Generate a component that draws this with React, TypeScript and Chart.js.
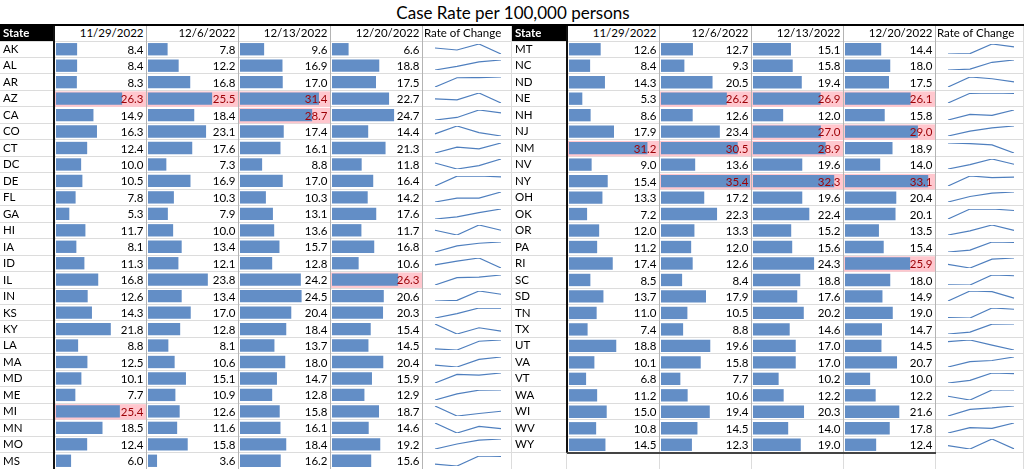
import React, { useEffect, useRef } from "react";
import { Chart, registerables } from "chart.js";

Chart.register(...registerables);

// ---------------- data ----------------
const TITLE = "Case Rate per 100,000 persons";
const STATE_HEADER = "State";
const WEEKS = ["11/29/2022", "12/6/2022", "12/13/2022", "12/20/2022"];
const TREND_HEADER = "Rate of Change";

const STATES = [
  "AK", "AL", "AR", "AZ", "CA", "CO", "CT", "DC", "DE", "FL", "GA", "HI", "IA",
  "ID", "IL", "IN", "KS", "KY", "LA", "MA", "MD", "ME", "MI", "MN", "MO", "MS",
  "MT", "NC", "ND", "NE", "NH", "NJ", "NM", "NV", "NY", "OH", "OK", "OR", "PA",
  "RI", "SC", "SD", "TN", "TX", "UT", "VA", "VT", "WA", "WI", "WV", "WY",
];

const RATE_11_29 = [
  8.4, 8.4, 8.3, 26.3, 14.9, 16.3, 12.4, 10.0, 10.5, 7.8, 5.3, 11.7, 8.1,
  11.3, 16.8, 12.6, 14.3, 21.8, 8.8, 12.5, 10.1, 7.7, 25.4, 18.5, 12.4, 6.0,
  12.6, 8.4, 14.3, 5.3, 8.6, 17.9, 31.2, 9.0, 15.4, 13.3, 7.2, 12.0, 11.2,
  17.4, 8.5, 13.7, 11.0, 7.4, 18.8, 10.1, 6.8, 11.2, 15.0, 10.8, 14.5,
];
const RATE_12_06 = [
  7.8, 12.2, 16.8, 25.5, 18.4, 23.1, 17.6, 7.3, 16.9, 10.3, 7.9, 10.0, 13.4,
  12.1, 23.8, 13.4, 17.0, 12.8, 8.1, 10.6, 15.1, 10.9, 12.6, 11.6, 15.8, 3.6,
  12.7, 9.3, 20.5, 26.2, 12.6, 23.4, 30.5, 13.6, 35.4, 17.2, 22.3, 13.3, 12.0,
  12.6, 8.4, 17.9, 10.5, 8.8, 19.6, 15.8, 7.7, 10.6, 19.4, 14.5, 12.3,
];
const RATE_12_13 = [
  9.6, 16.9, 17.0, 31.4, 28.7, 17.4, 16.1, 8.8, 17.0, 10.3, 13.1, 13.6, 15.7,
  12.8, 24.2, 24.5, 20.4, 18.4, 13.7, 18.0, 14.7, 12.8, 15.8, 16.1, 18.4, 16.2,
  15.1, 15.8, 19.4, 26.9, 12.0, 27.0, 28.9, 19.6, 32.3, 19.6, 22.4, 15.2, 15.6,
  24.3, 18.8, 17.6, 20.2, 14.6, 17.0, 17.0, 10.2, 12.2, 20.3, 14.0, 19.0,
];
const RATE_12_20 = [
  6.6, 18.8, 17.5, 22.7, 24.7, 14.4, 21.3, 11.8, 16.4, 14.2, 17.6, 11.7, 16.8,
  10.6, 26.3, 20.6, 20.3, 15.4, 14.5, 20.4, 15.9, 12.9, 18.7, 14.6, 19.2, 15.6,
  14.4, 18.0, 17.5, 26.1, 15.8, 29.0, 18.9, 14.0, 33.1, 20.4, 20.1, 13.5, 15.4,
  25.9, 18.0, 14.9, 19.0, 14.7, 14.5, 20.7, 10.0, 12.2, 21.6, 17.8, 12.4,
];

const HIGHLIGHT_ABOVE = 25;
const BAR_AXIS_MAX = 35.8;

// ---------------- layout / style ----------------
const FONT = "Lato, 'Open Sans', sans-serif";
const FONT_PX = 11.5;
const BAR_COLOR = "#638EC6";
const SPARK_COLOR = "#4F7FBE";
const PINK = "#FFC7CE";
const DARK_RED = "#9C0006";
const ROW_TOP = 41;
const ROW_H = 16.47;
const HEAD_TOP = 25;

const HALVES = [
  { x0: 0, edge: 53, seps: [146, 238, 330, 422], x1: 512, from: 0, to: 26, boxed: false },
  { x0: 512, edge: 566, seps: [659, 751, 843, 935], x1: 1024, from: 26, to: 51, boxed: true },
];

const WEEK_SERIES = [RATE_11_29, RATE_12_06, RATE_12_13, RATE_12_20];

const cellPlugin = {
  id: "cellFormat",
  beforeDatasetsDraw(chart: any) {
    const { ctx, chartArea } = chart;
    const y = chart.scales.y;
    const vals = chart.data.datasets[0].data as number[];
    const band = (chartArea.bottom - chartArea.top) / vals.length;
    ctx.save();
    ctx.fillStyle = PINK;
    vals.forEach((v, i) => {
      if (v > HIGHLIGHT_ABOVE) {
        const cy = y.getPixelForValue(i);
        ctx.fillRect(0, cy - band / 2 + 1, chart.width, band - 1);
      }
    });
    ctx.restore();
  },
  afterDatasetsDraw(chart: any) {
    const { ctx, chartArea } = chart;
    const y = chart.scales.y;
    const vals = chart.data.datasets[0].data as number[];
    const band = (chartArea.bottom - chartArea.top) / vals.length;
    ctx.save();
    ctx.font = `${FONT_PX}px Lato`;
    ctx.textAlign = "right";
    ctx.textBaseline = "alphabetic";
    vals.forEach((v, i) => {
      const cy = y.getPixelForValue(i);
      ctx.fillStyle = v > HIGHLIGHT_ABOVE ? DARK_RED : "#000";
      ctx.fillText(v.toFixed(1), chart.width - 2.5, cy + band / 2 - 3.7);
    });
    ctx.restore();
  },
};

function BarColumn(props: { labels: string[]; values: number[]; left: number; top: number; width: number; height: number }) {
  const ref = useRef<HTMLCanvasElement>(null);
  const { labels, values, left, top, width, height } = props;
  useEffect(() => {
    const chart = new Chart(ref.current as HTMLCanvasElement, {
      type: "bar",
      data: {
        labels,
        datasets: [
          {
            data: values,
            backgroundColor: BAR_COLOR,
            borderWidth: 0,
            barPercentage: 0.75,
            categoryPercentage: 1,
          },
        ],
      },
      options: {
        indexAxis: "y",
        responsive: false,
        animation: false,
        events: [],
        layout: { padding: { left: 1, right: 0, top: 0, bottom: 0 } },
        scales: {
          x: { display: false, min: 0, max: BAR_AXIS_MAX },
          y: { display: false },
        },
        plugins: { legend: { display: false }, tooltip: { enabled: false } },
      },
      plugins: [cellPlugin],
    } as any);
    return () => chart.destroy();
  }, []);
  return (
    <canvas
      ref={ref}
      width={width}
      height={height}
      style={{ position: "absolute", left, top, width, height }}
    />
  );
}

function Spark(props: { values: number[]; left: number; top: number }) {
  const ref = useRef<HTMLCanvasElement>(null);
  const { values, left, top } = props;
  useEffect(() => {
    const chart = new Chart(ref.current as HTMLCanvasElement, {
      type: "line",
      data: {
        labels: WEEKS,
        datasets: [
          {
            data: values,
            borderColor: SPARK_COLOR,
            borderWidth: 1.2,
            pointRadius: 0,
            tension: 0,
            fill: false,
          },
        ],
      },
      options: {
        responsive: false,
        animation: false,
        events: [],
        layout: { padding: 1 },
        scales: {
          x: { display: false },
          y: { display: false, min: Math.min(...values), max: Math.max(...values) },
        },
        plugins: { legend: { display: false }, tooltip: { enabled: false } },
      },
    } as any);
    return () => chart.destroy();
  }, []);
  return (
    <canvas ref={ref} width={68} height={12} style={{ position: "absolute", left, top, width: 68, height: 12 }} />
  );
}

export default function App() {
  const lines: React.ReactNode[] = [];
  const charts: React.ReactNode[] = [];
  const texts: React.ReactNode[] = [];

  HALVES.forEach((h, hi) => {
    const n = h.to - h.from;
    const tableBottom = h.boxed ? Math.round(ROW_TOP + n * ROW_H) : 469;
    // horizontal grid lines
    for (let i = 0; i <= n + 1; i++) {
      const y = Math.floor(ROW_TOP + i * ROW_H);
      if (y > 468) continue;
      lines.push(
        <div key={`h${hi}-${i}`} style={{ position: "absolute", left: h.x0, top: y, width: h.x1 - h.x0, height: 1, background: "#dcdcdc" }} />
      );
    }
    // vertical separators
    h.seps.forEach((sx, si) => {
      lines.push(
        <div key={`v${hi}-${si}`} style={{ position: "absolute", left: sx, top: HEAD_TOP, width: 1, height: tableBottom - HEAD_TOP, background: "#b4b4b4" }} />
      );
      if (h.boxed) {
        lines.push(
          <div key={`vb${hi}-${si}`} style={{ position: "absolute", left: sx, top: tableBottom, width: 1, height: 469 - tableBottom, background: "#dcdcdc" }} />
        );
      }
    });
    // section divider
    lines.push(
      <div key={`vx${hi}`} style={{ position: "absolute", left: h.x1 - 1, top: HEAD_TOP, width: 1, height: 469 - HEAD_TOP, background: "#dcdcdc" }} />
    );
    // black left edge of data block
    lines.push(
      <div key={`e${hi}`} style={{ position: "absolute", left: h.edge, top: HEAD_TOP, width: 2, height: tableBottom - HEAD_TOP, background: "#111" }} />
    );
    if (h.boxed) {
      lines.push(
        <div key={`eb${hi}`} style={{ position: "absolute", left: h.edge, top: tableBottom - 1, width: h.seps[3] - h.edge + 1, height: 2, background: "#444" }} />
      );
      lines.push(
        <div key={`el${hi}`} style={{ position: "absolute", left: h.edge, top: tableBottom, width: 1, height: 469 - tableBottom, background: "#dcdcdc" }} />
      );
    }

    const labels = STATES.slice(h.from, h.to);
    const colLefts = [h.edge + 2, h.seps[0] + 1, h.seps[1] + 1, h.seps[2] + 1];
    const colRights = [h.seps[0], h.seps[1], h.seps[2], h.seps[3]];
    const bodyH = Math.round(n * ROW_H);

    WEEK_SERIES.forEach((series, wi) => {
      charts.push(
        <BarColumn
          key={`b${hi}-${wi}`}
          labels={labels}
          values={series.slice(h.from, h.to)}
          left={colLefts[wi]}
          top={ROW_TOP}
          width={colRights[wi] - colLefts[wi]}
          height={bodyH}
        />
      );
      // header text
      texts.push(
        <div key={`hd${hi}-${wi}`} style={{ position: "absolute", left: colLefts[wi], top: HEAD_TOP, width: colRights[wi] - colLefts[wi] - 2.5, height: ROW_TOP - HEAD_TOP, lineHeight: `${ROW_TOP - HEAD_TOP}px`, textAlign: "right", fontSize: FONT_PX, whiteSpace: "nowrap" }}>
          {WEEKS[wi]}
        </div>
      );
    });

    // state header cell
    texts.push(
      <div key={`sh${hi}`} style={{ position: "absolute", left: h.x0, top: HEAD_TOP, width: h.edge - h.x0, height: ROW_TOP - HEAD_TOP, lineHeight: `${ROW_TOP - HEAD_TOP}px`, background: "#000", color: "#fff", fontWeight: 700, fontSize: FONT_PX, paddingLeft: 3, boxSizing: "border-box" }}>
        {STATE_HEADER}
      </div>
    );
    // trend header
    const rateLeft = h.seps[3] + 1;
    texts.push(
      <div key={`th${hi}`} style={{ position: "absolute", left: rateLeft + 1, top: HEAD_TOP, height: ROW_TOP - HEAD_TOP, lineHeight: `${ROW_TOP - HEAD_TOP}px`, fontSize: FONT_PX, whiteSpace: "nowrap" }}>
        {TREND_HEADER}
      </div>
    );

    labels.forEach((st, i) => {
      const idx = h.from + i;
      const rowTop = ROW_TOP + i * ROW_H;
      texts.push(
        <div key={`s${idx}`} style={{ position: "absolute", left: h.x0 + 3, top: rowTop, height: ROW_H, lineHeight: `${ROW_H}px`, fontSize: FONT_PX, whiteSpace: "nowrap" }}>
          {st}
        </div>
      );
      charts.push(
        <Spark
          key={`sp${idx}`}
          values={WEEK_SERIES.map((s) => s[idx])}
          left={rateLeft + 11}
          top={Math.round(rowTop + 2)}
        />
      );
    });
  });

  return (
    <div style={{ position: "absolute", left: 0, top: 0, width: 1024, height: 469, overflow: "hidden", background: "#fff", fontFamily: FONT, color: "#000" }}>
      {lines}
      <div style={{ position: "absolute", left: 0, top: 1, width: 1026, height: 23, lineHeight: "23px", textAlign: "center", fontSize: 17 }}>{TITLE}</div>
      <div style={{ position: "absolute", left: 0, top: 24, width: 1024, height: 2, background: "#000" }} />
      {charts}
      {texts}
    </div>
  );
}
